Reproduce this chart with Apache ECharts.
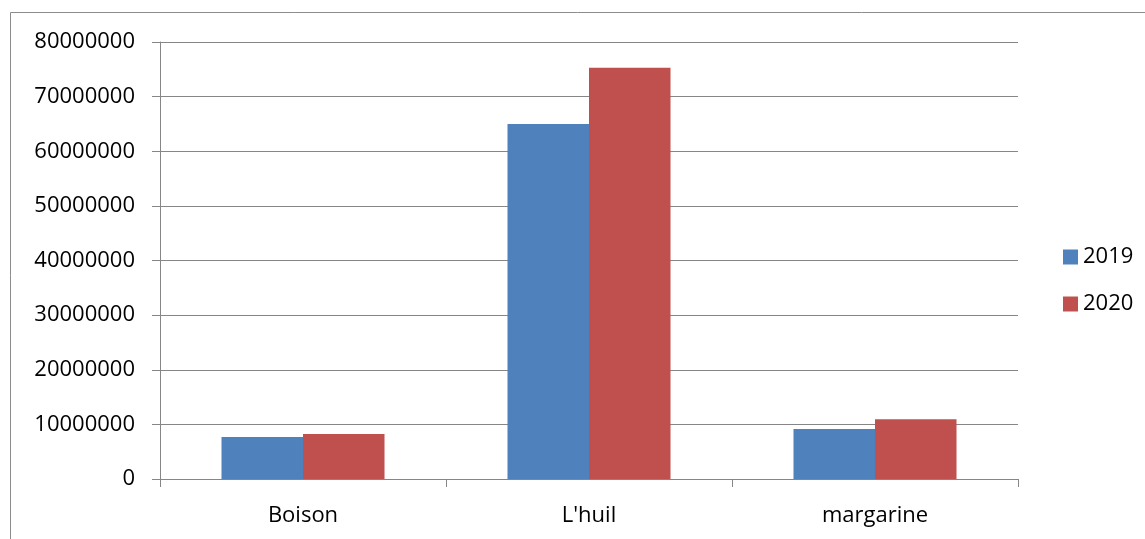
<!DOCTYPE html>
<html>
<head>
<meta charset="utf-8">
<script src="https://cdn.jsdelivr.net/npm/echarts@6/dist/echarts.min.js"></script>
<style>
  html, body { margin: 0; padding: 0; background: #fff; }
  #chart { width: 1145px; height: 539px; }
</style>
</head>
<body>
<div id="chart"></div>
<script>
// Product categories and yearly values
const categories = ["Boison", "L'huil", "margarine"];
const values2019 = [7700000, 65000000, 9150000];
const values2020 = [8250000, 75300000, 10950000];
const seriesNames = ["2019", "2020"];

const FONT = "Open Sans";
const AXIS_GRAY = "#868686";

const chart = echarts.init(document.getElementById('chart'));

chart.setOption({
  animation: false,
  backgroundColor: '#ffffff',
  textStyle: { fontFamily: FONT },
  graphic: [{
    type: 'polyline',
    shape: { points: [[10.5, 539], [10.5, 12.5], [1145, 12.5]] },
    style: { stroke: '#8c8c8c', lineWidth: 1, fill: null },
    silent: true
  }],
  grid: { left: 160, right: 127, top: 42, bottom: 60, containLabel: false },
  legend: {
    orient: 'vertical',
    left: 1058,
    top: 241,
    itemWidth: 15,
    itemHeight: 15,
    itemGap: 25,
    icon: 'rect',
    textStyle: { fontFamily: FONT, fontSize: 22, color: '#000', padding: [0, 0, 0, 0] },
    data: seriesNames
  },
  xAxis: {
    type: 'category',
    data: categories,
    axisLine: { lineStyle: { color: AXIS_GRAY, width: 1 } },
    axisTick: { show: true, length: 8, alignWithLabel: false, lineStyle: { color: AXIS_GRAY } },
    axisLabel: { color: '#000', fontFamily: FONT, fontSize: 22, margin: 26 },
    splitLine: { show: false }
  },
  yAxis: {
    type: 'value',
    min: 0,
    max: 80000000,
    interval: 10000000,
    axisLine: { show: true, lineStyle: { color: AXIS_GRAY, width: 1 } },
    axisTick: { show: true, length: 8, lineStyle: { color: AXIS_GRAY } },
    axisLabel: {
      color: '#000', fontFamily: FONT, fontSize: 22, margin: 25,
      formatter: v => String(v)
    },
    splitLine: { show: true, lineStyle: { color: AXIS_GRAY, width: 1 } }
  },
  series: [
    {
      name: seriesNames[0],
      type: 'bar',
      data: values2019,
      barGap: '0%',
      barCategoryGap: '43%',
      itemStyle: { color: '#4F81BD' }
    },
    {
      name: seriesNames[1],
      type: 'bar',
      data: values2020,
      barGap: '0%',
      barCategoryGap: '43%',
      itemStyle: { color: '#C0504D' }
    }
  ]
});
</script>
</body>
</html>
